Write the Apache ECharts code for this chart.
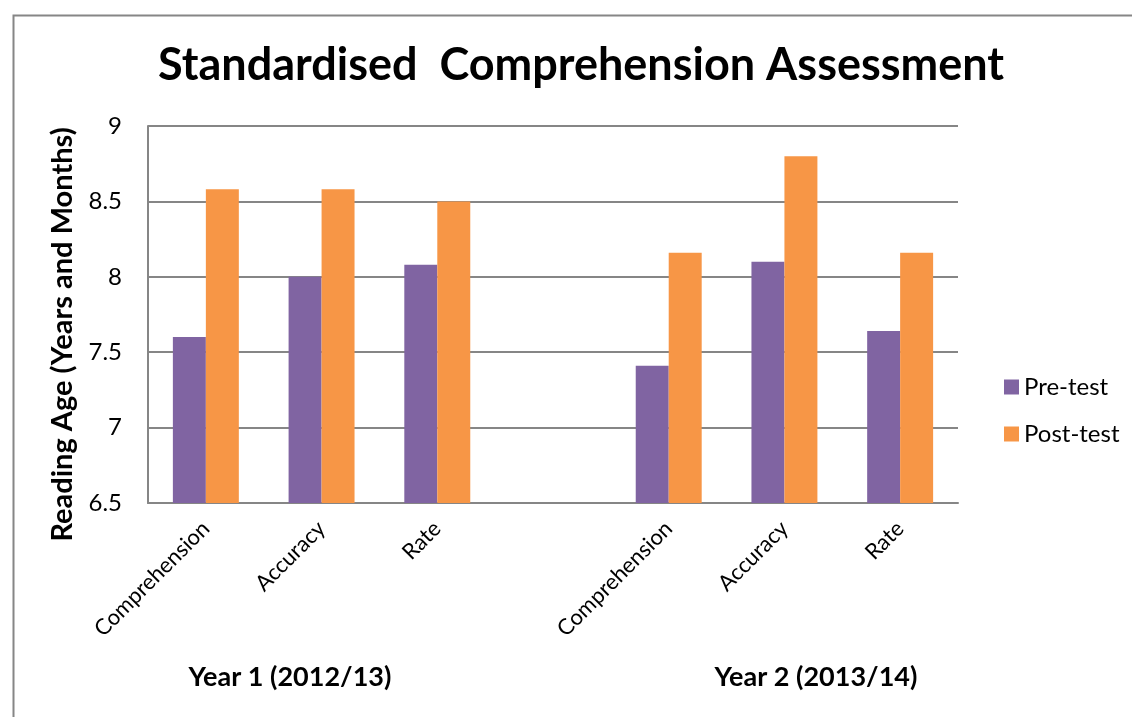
<!DOCTYPE html>
<html>
<head>
<meta charset="utf-8">
<script src="https://cdn.jsdelivr.net/npm/echarts@6/dist/echarts.min.js"></script>
<style>
  html, body { margin: 0; padding: 0; background: #fff; }
  #main { width: 1132px; height: 717px; }
</style>
</head>
<body>
<div id="main"></div>
<script>
// categories (blank slot splits the two years)
var categories = ['Comprehension', 'Accuracy', 'Rate', '', 'Comprehension', 'Accuracy', 'Rate'];
var preTest = [7.6, 8.0, 8.08, null, 7.41, 8.1, 7.64];
var postTest = [8.58, 8.58, 8.5, null, 8.16, 8.8, 8.16];
var yearLabels = ['Year 1 (2012/13)', 'Year 2 (2013/14)'];

var font = 'Lato';
var grey = '#868686';

var chart = echarts.init(document.getElementById('main'));

var option = {
  backgroundColor: '#ffffff',
  color: ['#8064A2', '#F79646'],
  animation: false,
  title: {
    text: 'Standardised  Comprehension Assessment',
    left: 153,
    top: 38,
    textStyle: {
      fontFamily: font,
      fontWeight: 'bold',
      fontSize: 45,
      color: '#000'
    }
  },
  grid: {
    left: 148,
    top: 126,
    right: 174,
    bottom: 214
  },
  legend: {
    orient: 'vertical',
    left: 999,
    top: 369,
    itemWidth: 15,
    itemHeight: 15,
    itemGap: 21,
    icon: 'rect',
    textStyle: {
      fontFamily: font,
      fontSize: 24,
      lineHeight: 26,
      color: '#000'
    },
    data: ['Pre-test', 'Post-test']
  },
  xAxis: {
    type: 'category',
    data: categories,
    axisLine: { lineStyle: { color: grey, width: 2 } },
    axisTick: { show: false },
    axisLabel: {
      rotate: 45,
      interval: 0,
      margin: 22,
      fontFamily: font,
      fontSize: 22,
      color: '#000'
    }
  },
  yAxis: {
    type: 'value',
    min: 6.5,
    max: 9,
    interval: 0.5,
    name: 'Reading Age (Years and Months)',
    nameLocation: 'middle',
    nameGap: 70,
    nameTextStyle: {
      fontFamily: font,
      fontWeight: 'bold',
      fontSize: 29,
      color: '#000',
      padding: [0, 40, 0, 0]
    },
    axisLine: { show: true, lineStyle: { color: grey, width: 2 } },
    axisTick: { show: false },
    splitLine: { lineStyle: { color: grey, width: 2 } },
    axisLabel: {
      margin: 26,
      fontFamily: font,
      fontSize: 24,
      color: '#000'
    }
  },
  graphic: [
    {
      type: 'rect',
      left: 11,
      top: 13,
      shape: { width: 1140, height: 720 },
      style: { fill: null, stroke: grey, lineWidth: 2 },
      silent: true
    },
    {
      type: 'text',
      x: 290,
      y: 677,
      style: {
        text: yearLabels[0],
        fontFamily: font,
        fontWeight: 'bold',
        fontSize: 27,
        fill: '#000',
        align: 'center',
        verticalAlign: 'middle'
      }
    },
    {
      type: 'text',
      x: 816,
      y: 677,
      style: {
        text: yearLabels[1],
        fontFamily: font,
        fontWeight: 'bold',
        fontSize: 27,
        fill: '#000',
        align: 'center',
        verticalAlign: 'middle'
      }
    }
  ],
  series: [
    {
      name: 'Pre-test',
      type: 'bar',
      data: preTest,
      barGap: '0%',
      barCategoryGap: '43%'
    },
    {
      name: 'Post-test',
      type: 'bar',
      data: postTest,
      barGap: '0%',
      barCategoryGap: '43%'
    }
  ]
};

chart.setOption(option);
</script>
</body>
</html>
